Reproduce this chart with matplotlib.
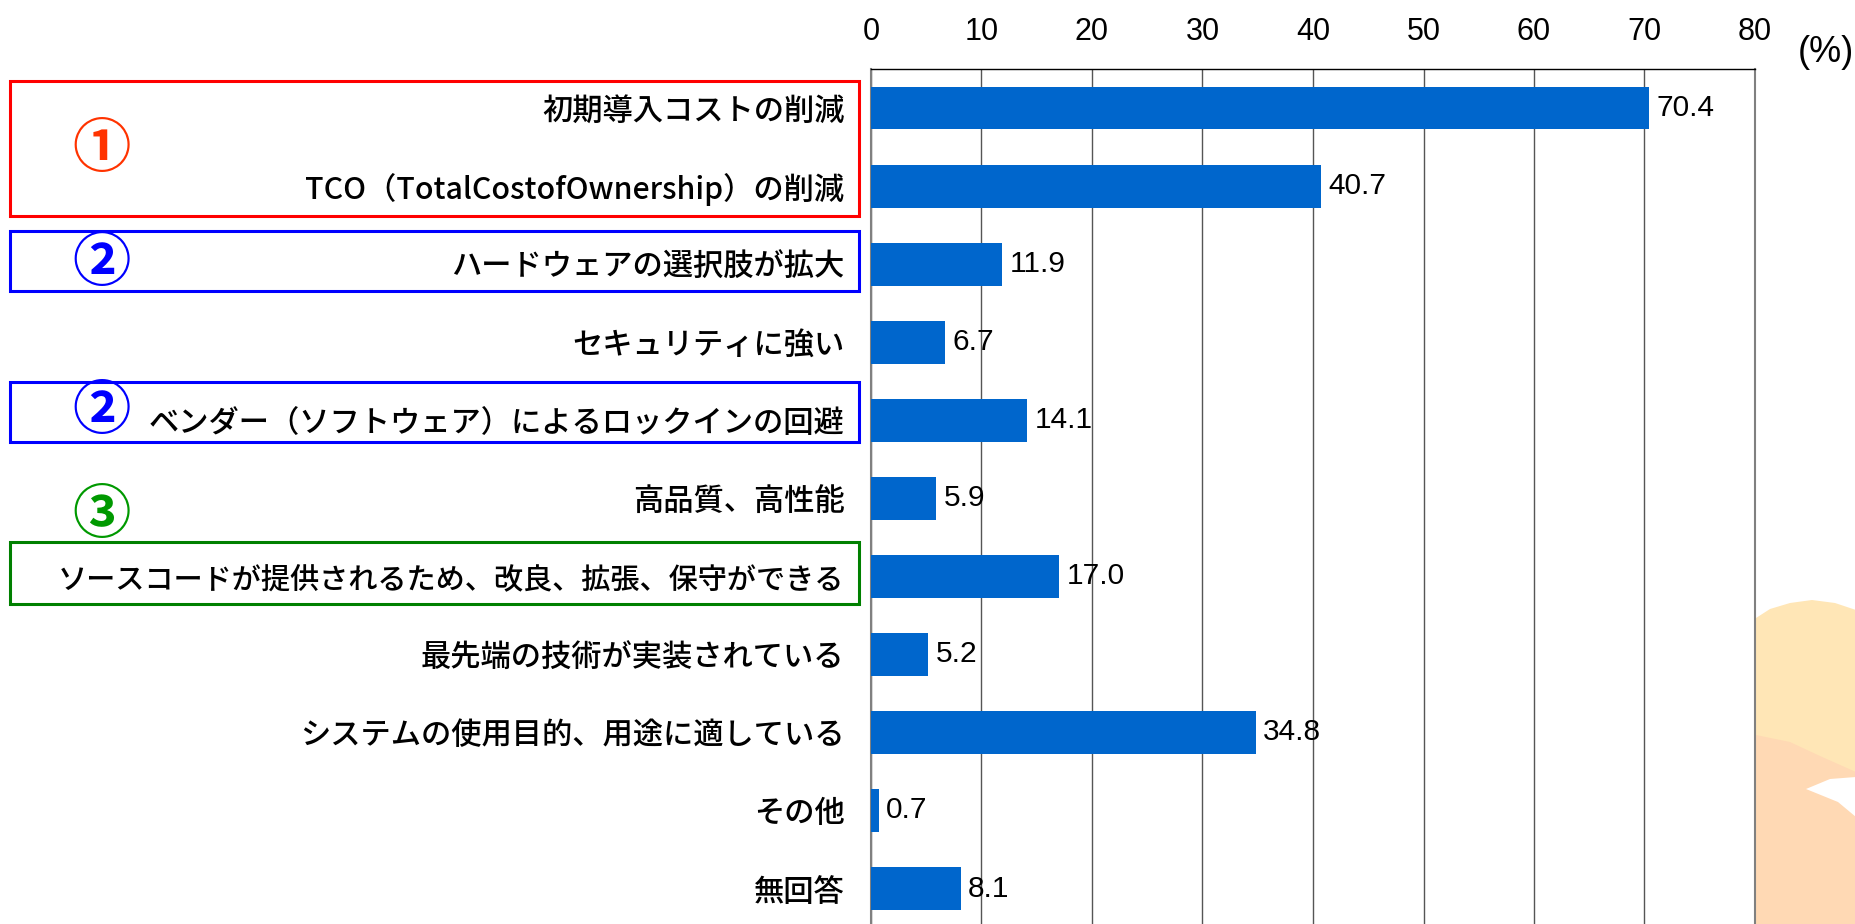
import numpy as np
import matplotlib
matplotlib.use('Agg')
import matplotlib.pyplot as plt
from matplotlib.patches import Rectangle, Polygon

# ---- data ----
categories = [
    "初期導入コストの削減",
    "TCO（TotalCostofOwnership）の削減",
    "ハードウェアの選択肢が拡大",
    "セキュリティに強い",
    "ベンダー（ソフトウェア）によるロックインの回避",
    "高品質、高性能",
    "ソースコードが提供されるため、改良、拡張、保守ができる",
    "最先端の技術が実装されている",
    "システムの使用目的、用途に適している",
    "その他",
    "無回答",
]
values = [70.4, 40.7, 11.9, 6.7, 14.1, 5.9, 17.0, 5.2, 34.8, 0.7, 8.1]
value_labels = ["70.4", "40.7", "11.9", "6.7", "14.1", "5.9", "17.0", "5.2", "34.8", "0.7", "8.1"]
x_ticks = [0, 10, 20, 30, 40, 50, 60, 70, 80]
unit_label = "(%)"
group_marks = ["①", "②", "②", "③"]

CJK = ['Noto Sans CJK JP', 'DejaVu Sans']
LAT = ['Liberation Sans', 'DejaVu Sans']

W, H = 1856, 924
fig = plt.figure(figsize=(W / 100, H / 100), dpi=100)
fig.patch.set_facecolor('white')

def fx(px):
    return px / W

def fy(py):
    return 1 - py / H

# decorative blob at bottom right
blob_upper = [(1756, 618), (1770, 609), (1790, 603), (1812, 600), (1835, 603),
              (1856, 610), (1856, 924), (1756, 924)]
blob_lower = [(1756, 735), (1790, 742), (1820, 756), (1856, 772), (1856, 924), (1756, 924)]
notch = [(1806, 789), (1830, 779), (1856, 777), (1856, 817), (1838, 802)]
for pts, col in [(blob_upper, '#FFE6B6'), (blob_lower, '#FFD9B4'), (notch, 'white')]:
    fig.add_artist(Polygon([(fx(a), fy(b)) for a, b in pts], closed=True,
                           transform=fig.transFigure, facecolor=col,
                           edgecolor='none', zorder=0))

ax = fig.add_axes([fx(871), 0, fx(1755) - fx(871), (924 - 69) / H])
ax.set_facecolor('none')
y = np.arange(len(categories))
ax.barh(y, values, height=0.55, color='#0066CC', zorder=3)
ax.set_xlim(0, 80)
ax.set_ylim(10.5 - 3.55 / 78.1, -0.5)

ax.set_xticks(x_ticks)
ax.set_xticklabels([str(t) for t in x_ticks], family=LAT, fontsize=22)
ax.xaxis.tick_top()
ax.tick_params(axis='x', length=0, pad=16)
ax.grid(axis='x', color='#555555', linewidth=1.0, zorder=1)
ax.set_axisbelow(True)

ax.set_yticks(y)
ax.set_yticklabels(categories, family=CJK, fontsize=21.8, weight=500)
ax.get_yticklabels()[6].set_fontsize(21)
ax.tick_params(axis='y', length=0, pad=19)

ax.spines['bottom'].set_visible(False)
ax.spines['top'].set_color('black')
ax.spines['top'].set_linewidth(1.0)
ax.spines['left'].set_color('#808080')
ax.spines['left'].set_linewidth(1.5)
ax.spines['right'].set_color('#808080')
ax.spines['right'].set_linewidth(1.5)

for yi, v, lab in zip(y, values, value_labels):
    ax.annotate(lab, xy=(v, yi), xytext=(5.5, 0), textcoords='offset points',
                ha='left', va='center', fontsize=21.5, family=LAT, zorder=4)

fig.text(fx(1826), fy(52), unit_label, ha='center', va='center',
         fontsize=26, family=LAT)

# group boxes
boxes = [((10, 81, 859, 216), '#FF0000'),
         ((10, 231, 859, 291), '#0000FF'),
         ((10, 382, 859, 442), '#0000FF'),
         ((10, 542, 859, 604), '#008000')]
for (x0, y0, x1, y1), col in boxes:
    fig.add_artist(Rectangle((fx(x0), fy(y1)), fx(x1) - fx(x0), (y1 - y0) / H,
                             transform=fig.transFigure, fill=False,
                             edgecolor=col, linewidth=2.2, zorder=5))

mark_pos = [(102, 150), (102, 264), (102, 412), (102, 516)]
mark_cols = ['#FF3300', '#0000FF', '#0000FF', '#009900']
for m, (px, py), c in zip(group_marks, mark_pos, mark_cols):
    fig.text(fx(px), fy(py), m, ha='center', va='center', fontsize=42,
             weight='bold', color=c, family=CJK, zorder=6)

fig.savefig('out.png', dpi=100, facecolor='white')
